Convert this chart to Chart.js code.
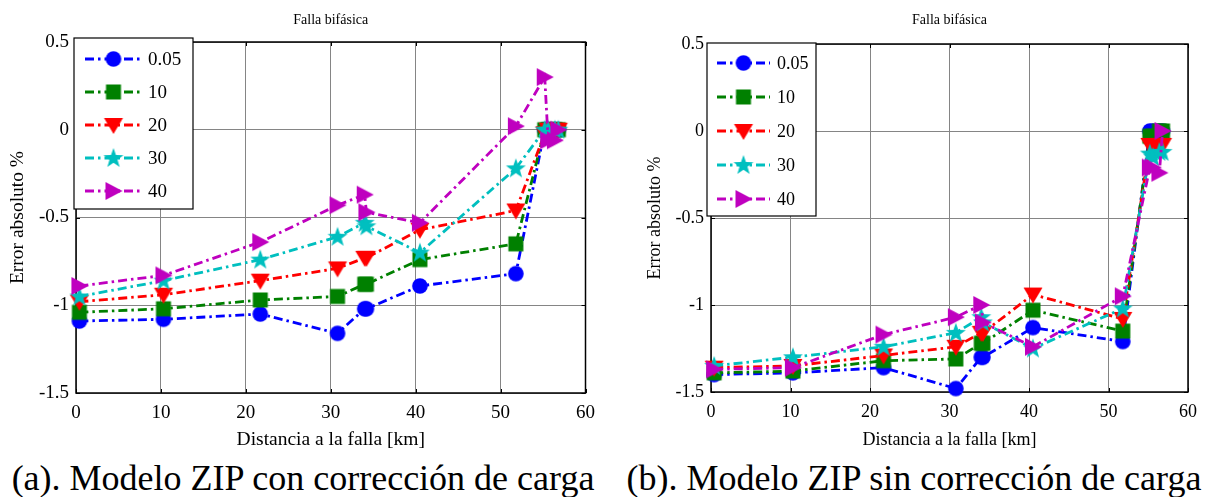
<!DOCTYPE html>
<html>
<head>
<meta charset="utf-8">
<script src="https://cdn.jsdelivr.net/npm/chart.js@4.4.0/dist/chart.umd.min.js"></script>
<style>
  body { margin: 0; background: #fff; width: 1209px; height: 497px; overflow: hidden;
         font-family: 'Liberation Serif', 'Times New Roman', serif; }
  .panel { position: absolute; top: 0; }
  .cap { position: absolute; top: 460px; font-size: 36px; line-height: 1; white-space: nowrap;
         transform: translateX(-50%); color: #000; }
  .warm { position: absolute; left: -999px; top: 0; font-size: 19px; }
</style>
</head>
<body>
<span class="warm">Falla bifásica 0.5 -1.5</span>
<div class="panel" style="left:0"><canvas id="chartA" width="604" height="455"></canvas></div>
<div class="panel" style="left:604px"><canvas id="chartB" width="605" height="455"></canvas></div>
<div class="cap" style="left:303px">(a). Modelo ZIP con corrección de carga</div>
<div class="cap" style="left:914px">(b). Modelo ZIP sin corrección de carga</div>
<script>
// distance to the fault [km], shared by every series
const distKm = [0.4, 10.3, 21.7, 30.8, 34.0, 34.2, 40.5, 51.8, 55.2, 55.6, 56.4, 56.8];
const seriesNames = ['0.05', '10', '20', '30', '40'];
const xTicks = [0, 10, 20, 30, 40, 50, 60];
const yTicks = [0.5, 0, -0.5, -1, -1.5];

// (a) con corrección de carga
const conCorr005 = [-1.09, -1.08, -1.05, -1.16, -1.02, -1.02, -0.89, -0.82, 0.0, 0.0, 0.0, 0.0];
const conCorr10 = [-1.04, -1.02, -0.97, -0.95, -0.88, -0.88, -0.74, -0.65, 0.0, 0.0, 0.0, 0.0];
const conCorr20 = [-0.98, -0.94, -0.86, -0.79, -0.73, -0.73, -0.57, -0.46, -0.02, 0.0, 0.0, 0.0];
const conCorr30 = [-0.95, -0.86, -0.74, -0.61, -0.53, -0.55, -0.70, -0.22, 0.0, 0.0, 0.0, 0.0];
const conCorr40 = [-0.89, -0.83, -0.64, -0.43, -0.37, -0.47, -0.53, 0.02, 0.30, -0.06, -0.06, 0.0];

// (b) sin corrección de carga
const sinCorr005 = [-1.40, -1.39, -1.36, -1.48, -1.30, -1.30, -1.13, -1.21, 0.0, 0.0, 0.0, 0.0];
const sinCorr10 = [-1.39, -1.38, -1.32, -1.31, -1.22, -1.22, -1.03, -1.15, -0.03, -0.03, 0.0, 0.0];
const sinCorr20 = [-1.36, -1.35, -1.29, -1.24, -1.16, -1.16, -0.94, -1.08, -0.08, -0.10, -0.08, -0.08];
const sinCorr30 = [-1.35, -1.30, -1.24, -1.16, -1.07, -1.10, -1.25, -1.02, -0.13, -0.15, -0.12, -0.12];
const sinCorr40 = [-1.37, -1.36, -1.17, -1.07, -1.00, -1.10, -1.24, -0.95, -0.21, -0.21, -0.24, 0.0];

const colors = ['#0000ff', '#008000', '#ff0000', '#00bfbf', '#bf00bf'];
const shapes = ['circle', 'square', 'down', 'star', 'right'];
const dashDot = [9, 4, 2.5, 4];
const serif = '"Liberation Serif", "Times New Roman", serif';

function makeMarker(kind, color) {
  const c = document.createElement('canvas');
  c.width = 24; c.height = 24;
  const g = c.getContext('2d');
  g.fillStyle = color;
  g.beginPath();
  if (kind === 'circle') {
    g.arc(12, 12, 7.8, 0, Math.PI * 2);
  } else if (kind === 'square') {
    g.rect(4.5, 4.5, 15, 15);
  } else if (kind === 'down') {
    g.moveTo(2.5, 5); g.lineTo(21.5, 5); g.lineTo(12, 21);
  } else if (kind === 'right') {
    g.moveTo(4, 3); g.lineTo(21, 12); g.lineTo(4, 21);
  } else if (kind === 'star') {
    for (let i = 0; i < 10; i++) {
      const r = i % 2 === 0 ? 10.5 : 4.2;
      const a = -Math.PI / 2 + i * Math.PI / 5;
      const px = 12 + r * Math.cos(a), py = 12.5 + r * Math.sin(a);
      if (i === 0) g.moveTo(px, py); else g.lineTo(px, py);
    }
  }
  g.closePath();
  g.fill();
  return c;
}

const markers = shapes.map((s, i) => makeMarker(s, colors[i]));

function buildDatasets(lists) {
  return lists.map((vals, i) => ({
    label: seriesNames[i],
    data: distKm.map((x, k) => ({x: x, y: vals[k]})),
    borderColor: colors[i],
    backgroundColor: colors[i],
    borderWidth: 2.8,
    borderDash: dashDot,
    pointStyle: markers[i],
    pointRadius: 8,
    tension: 0,
    clip: false,
    order: lists.length - i
  }));
}

const framePlugin = {
  id: 'frame',
  beforeDatasetsDraw(chart) {
    const {ctx, chartArea: a, scales} = chart;
    ctx.save();
    ctx.strokeStyle = '#000';
    ctx.lineWidth = 1;
    ctx.beginPath();
    xTicks.forEach(v => {
      const px = Math.round(scales.x.getPixelForValue(v)) + 0.5;
      ctx.moveTo(px, a.bottom); ctx.lineTo(px, a.bottom - 4);
      ctx.moveTo(px, a.top); ctx.lineTo(px, a.top + 4);
    });
    yTicks.forEach(v => {
      const py = Math.round(scales.y.getPixelForValue(v)) + 0.5;
      ctx.moveTo(a.left, py); ctx.lineTo(a.left + 4, py);
      ctx.moveTo(a.right, py); ctx.lineTo(a.right - 4, py);
    });
    ctx.stroke();
    ctx.lineWidth = 1.5;
    ctx.strokeRect(a.left, a.top, a.right - a.left, a.bottom - a.top);
    ctx.restore();
  },
  afterDraw(chart, args, opts) {
    const {ctx, chartArea: a} = chart;
    ctx.save();
    ctx.fillStyle = '#000';
    ctx.font = opts.titleSize + 'px ' + serif;
    ctx.textAlign = 'center';
    ctx.textBaseline = 'middle';
    ctx.fillText(opts.title, (a.left + a.right) / 2, 20);

    const L = opts.legend;
    ctx.fillStyle = '#fff';
    ctx.fillRect(L.left, L.top, L.width, L.height);
    ctx.strokeStyle = '#000';
    ctx.lineWidth = 1.2;
    ctx.strokeRect(L.left, L.top, L.width, L.height);
    ctx.font = L.fontSize + 'px ' + serif;
    ctx.textAlign = 'left';
    chart.data.datasets.forEach((ds, i) => {
      const y = L.row0 + i * L.step;
      ctx.strokeStyle = ds.borderColor;
      ctx.lineWidth = 2.8;
      ctx.setLineDash(ds.borderDash);
      ctx.beginPath();
      ctx.moveTo(L.line0, y); ctx.lineTo(L.line1, y);
      ctx.stroke();
      ctx.setLineDash([]);
      const m = ds.pointStyle;
      ctx.drawImage(m, (L.line0 + L.line1) / 2 - m.width / 2, y - m.height / 2);
      ctx.fillStyle = '#000';
      ctx.fillText(ds.label, L.text, y + 1);
    });
    ctx.restore();
  }
};

function makeChart(id, lists, cfg) {
  return new Chart(document.getElementById(id), {
    type: 'line',
    data: {datasets: buildDatasets(lists)},
    plugins: [framePlugin],
    options: {
      responsive: false,
      animation: false,
      events: [],
      layout: {padding: {left: cfg.padLeft, top: cfg.padTop, right: cfg.padRight, bottom: 0}},
      plugins: {
        legend: {display: false},
        tooltip: {enabled: false},
        frame: {title: 'Falla bifásica', titleSize: 14, legend: cfg.legend}
      },
      scales: {
        x: {
          type: 'linear', min: 0, max: 60,
          afterFit: s => { s.height = cfg.xAxisHeight; },
          ticks: {stepSize: 10, padding: 9, color: '#000', font: {family: serif, size: cfg.tickSize}},
          grid: {color: '#858585', lineWidth: 1, drawTicks: false},
          border: {display: false},
          title: {display: true, text: 'Distancia a la falla [km]', color: '#000',
                  padding: {top: 0, bottom: cfg.xTitlePad}, font: {family: serif, size: cfg.titleFont}}
        },
        y: {
          min: -1.5, max: 0.5,
          afterFit: s => { s.width = cfg.yAxisWidth; },
          ticks: {stepSize: 0.5, padding: 7, color: '#000', font: {family: serif, size: cfg.tickSize},
                  callback: v => String(v)},
          grid: {color: '#858585', lineWidth: 1, drawTicks: false},
          border: {display: false},
          title: {display: true, text: 'Error absoluto %', color: '#000',
                  padding: {top: cfg.yTitlePad, bottom: 0}, font: {family: serif, size: cfg.titleFont}}
        }
      }
    }
  });
}

function drawAll() {
  makeChart('chartA', [conCorr005, conCorr10, conCorr20, conCorr30, conCorr40], {
    padLeft: 0, padTop: 42, padRight: 8, xAxisHeight: 62, yAxisWidth: 76, tickSize: 19,
    titleFont: 19.5, xTitlePad: 3, yTitlePad: 6,
    legend: {left: 74, top: 38, width: 119, height: 171, row0: 59, step: 33,
             line0: 85, line1: 142, text: 148, fontSize: 19}
  });
  makeChart('chartB', [sinCorr005, sinCorr10, sinCorr20, sinCorr30, sinCorr40], {
    padLeft: 33, padTop: 44, padRight: 21, xAxisHeight: 63, yAxisWidth: 74, tickSize: 18,
    titleFont: 18, xTitlePad: 4, yTitlePad: 7,
    legend: {left: 103, top: 43, width: 109, height: 173, row0: 63, step: 34,
             line0: 113, line1: 166, text: 173, fontSize: 18}
  });
}

Chart.defaults.font.family = serif;
document.fonts.load('19px "Liberation Serif"').then(drawAll, drawAll);
</script>
</body>
</html>
